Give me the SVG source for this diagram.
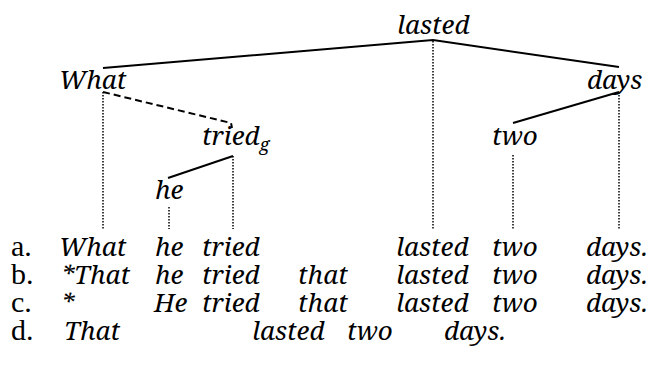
<svg xmlns="http://www.w3.org/2000/svg" width="651" height="369" viewBox="0 0 651 369">
<style>
.solid{stroke:#000;stroke-width:2;fill:none}
.dash{stroke:#000;stroke-width:2;fill:none;stroke-dasharray:7,4}
.dot{stroke:#000;stroke-width:1.5;fill:none;stroke-dasharray:1.5,1.5}
</style>
<rect width="651" height="369" fill="#fff"/>
<g id="connectors">
<polyline class="solid" points="103,68 433,40 619,67"/>
<line class="solid" x1="619" y1="92" x2="513" y2="123"/>
<line class="solid" x1="233" y1="156" x2="168" y2="178"/>
<polyline class="dash" points="103,92 231,123 232,128"/>
<line class="dot" x1="433" y1="41" x2="433" y2="229"/>
<line class="dot" x1="103" y1="92" x2="103" y2="229"/>
<line class="dot" x1="619" y1="92" x2="619" y2="229"/>
<line class="dot" x1="513" y1="155" x2="513" y2="229"/>
<line class="dot" x1="233" y1="156" x2="233" y2="229"/>
<line class="dot" x1="169" y1="207" x2="169" y2="229"/>
</g>
<g id="nodes" font-family="Noto Serif, Liberation Serif, serif" font-style="italic" font-size="26" fill="#000">
<g id="node-lasted"><text x="397" y="34">lasted</text></g>
<g id="node-what"><text x="59" y="89">What</text></g>
<g id="node-days"><text x="587" y="89">days</text></g>
<g id="node-tried"><text x="202" y="145">tried<tspan font-size="18" dy="6">g</tspan></text></g>
<g id="node-two"><text x="492" y="145">two</text></g>
<g id="node-he"><text x="155" y="199">he</text></g>
</g>
<g id="labels" font-family="Liberation Serif, Times New Roman, serif" font-size="30" fill="#000">
<text x="11" y="256">a.</text>
<text x="11" y="284">b.</text>
<text x="11" y="312">c.</text>
<text x="11" y="340">d.</text>
</g>
<g id="sentences" font-family="Noto Serif, Liberation Serif, serif" font-style="italic" font-size="26" fill="#000">
<text y="256"><tspan x="59">What</tspan><tspan x="155">he</tspan><tspan x="202">tried</tspan><tspan x="396">lasted</tspan><tspan x="492">two</tspan><tspan x="586">days.</tspan></text>
<text y="284"><tspan x="61">*That</tspan><tspan x="155">he</tspan><tspan x="202">tried</tspan><tspan x="298">that</tspan><tspan x="396">lasted</tspan><tspan x="492">two</tspan><tspan x="586">days.</tspan></text>
<text y="312"><tspan x="61">*</tspan><tspan x="154">He</tspan><tspan x="202">tried</tspan><tspan x="298">that</tspan><tspan x="396">lasted</tspan><tspan x="492">two</tspan><tspan x="586">days.</tspan></text>
<text y="340"><tspan x="64">That</tspan><tspan x="252">lasted</tspan><tspan x="347">two</tspan><tspan x="444">days.</tspan></text>
</g>
</svg>
